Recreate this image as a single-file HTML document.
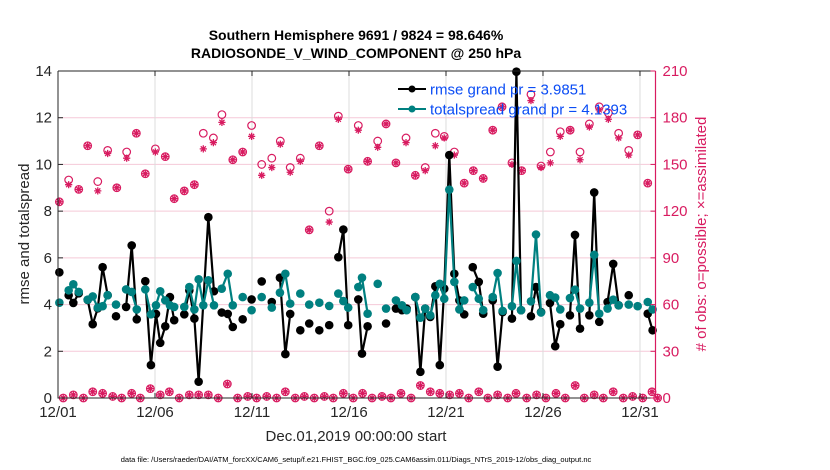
<!DOCTYPE html>
<html><head><meta charset="utf-8"><style>
html,body{margin:0;padding:0;background:#fff;}
svg{display:block;font-family:"Liberation Sans",sans-serif;}
</style></head><body>
<svg id="chart" width="830" height="470" viewBox="0 0 830 470" xmlns="http://www.w3.org/2000/svg">
<rect width="830" height="470" fill="#fff"/>
<g id="grid"></g>
<g id="obs"></g>
<g id="series"></g>
<g id="axes"></g>
<text x="356" y="40" font-size="14" font-weight="bold" text-anchor="middle" fill="#000">Southern Hemisphere 9691 / 9824 = 98.646%</text>
<text x="356" y="58" font-size="14" font-weight="bold" text-anchor="middle" fill="#000">RADIOSONDE_V_WIND_COMPONENT @ 250 hPa</text>
<text transform="translate(29,234) rotate(-90)" font-size="15" text-anchor="middle" fill="#262626">rmse and totalspread</text>
<text transform="translate(706,234) rotate(-90)" font-size="15" text-anchor="middle" fill="#d81b60"># of obs: o=possible; ×=assimilated</text>
<text x="356" y="441" font-size="15" text-anchor="middle" fill="#262626">Dec.01,2019 00:00:00 start</text>
<text x="356" y="462" font-size="7.5" text-anchor="middle" fill="#000">data file: /Users/raeder/DAI/ATM_forcXX/CAM6_setup/f.e21.FHIST_BGC.f09_025.CAM6assim.011/Diags_NTrS_2019-12/obs_diag_output.nc</text>
<g id="legend">
  <line x1="398" y1="89" x2="426" y2="89" stroke="#000" stroke-width="2"/>
  <circle cx="412" cy="89" r="3.5" fill="#000"/>
  <text x="430" y="94.5" font-size="15" fill="#0a4cf5">rmse grand pr = 3.9851</text>
  <line x1="398" y1="109" x2="426" y2="109" stroke="#008080" stroke-width="2"/>
  <circle cx="412" cy="109" r="3.5" fill="#008080"/>
  <text x="430" y="114.5" font-size="15" fill="#0a4cf5">totalspread grand pr = 4.1393</text>
</g>
</svg>
<script>
const xTickLabels = ["12/01","12/06","12/11","12/16","12/21","12/26","12/31"];
const xTickDays = [0,5,10,15,20,25,30];
const yTicks = [0,2,4,6,8,10,12,14];
const y2Ticks = [0,30,60,90,120,150,180,210];

const rmseDays = [0.07,null,0.55,0.79,1.07,null,1.53,1.79,2.05,2.30,2.56,null,2.99,null,3.51,3.80,4.06,null,4.50,4.79,5.05,5.27,5.53,5.77,5.99,null,6.51,6.77,7.03,7.25,7.75,8.04,null,8.44,8.75,9.01,null,9.52,null,9.98,null,10.5,null,11.02,null,11.44,11.72,11.97,null,12.49,null,12.95,null,13.47,null,13.98,null,14.45,14.71,14.96,null,15.48,15.67,15.96,null,16.91,null,17.42,17.73,17.97,null,18.42,18.68,18.93,19.19,19.45,19.68,19.91,20.17,20.43,20.69,20.94,null,21.38,21.69,21.92,null,22.41,22.66,22.92,null,23.40,23.63,23.87,null,24.38,24.64,24.90,null,25.36,25.63,25.89,null,26.39,26.65,26.91,null,27.39,27.64,27.90,null,28.33,28.62,28.90,null,29.42,null,30.40,30.65];
const rmseVals = [5.38,null,4.4,4.07,4.48,null,4.2,3.16,3.84,5.6,4.4,null,3.5,null,3.9,6.53,3.37,null,5.0,1.41,3.6,2.36,3.07,4.32,3.33,null,3.58,4.6,3.4,0.7,7.74,4.57,null,3.66,3.6,3.04,null,3.37,null,4.22,null,4.99,null,4.11,null,5.15,1.88,3.6,null,2.9,null,3.19,null,2.9,null,3.12,null,6.03,7.21,3.12,null,4.22,1.9,3.07,null,3.19,null,3.83,3.76,3.83,null,4.32,1.12,3.83,3.47,4.78,1.41,4.68,10.4,5.32,4.18,3.58,null,5.6,4.97,3.61,null,4.18,1.34,3.68,null,3.4,13.97,3.76,null,3.5,4.75,3.68,null,4.07,2.22,3.16,null,3.54,6.98,2.97,null,3.54,8.8,3.26,null,4.11,5.74,3.97,null,4.4,null,3.61,2.9];

const spreadDays = [0.07,null,0.55,0.79,1.07,null,1.53,1.79,2.05,2.30,2.56,null,2.99,null,3.51,3.80,4.06,null,4.50,4.79,5.05,5.27,5.53,5.77,5.99,null,6.51,6.77,7.03,7.25,7.49,7.75,8.04,null,8.44,8.75,9.01,null,9.52,null,9.98,null,10.5,null,11.02,null,11.44,11.72,11.97,null,12.49,null,12.95,null,13.47,null,13.98,null,14.45,14.71,14.96,null,15.48,15.67,15.96,null,16.48,null,16.91,null,17.42,17.73,17.97,null,18.42,18.68,18.93,19.19,19.45,19.68,19.91,20.17,20.43,20.69,20.94,null,21.38,21.69,21.92,null,22.41,22.66,22.92,null,23.40,23.63,23.87,null,24.38,24.64,24.90,null,25.36,25.63,25.89,null,26.39,26.65,26.91,null,27.39,27.64,27.90,null,28.33,28.62,28.90,null,29.42,null,29.88,null,30.40,30.65];
const spreadVals = [4.08,null,4.61,4.87,4.54,null,4.21,4.35,3.87,3.93,4.4,null,4.0,null,4.65,4.54,3.79,null,4.65,3.58,3.97,4.57,4.18,3.97,3.9,null,3.9,4.75,3.79,5.08,3.97,5.04,3.97,null,4.68,5.32,3.97,null,4.32,null,3.76,null,4.32,null,3.87,null,4.51,5.32,4.04,null,4.47,null,4.0,null,4.08,null,3.94,null,4.47,4.15,3.87,null,4.75,5.15,3.61,null,4.89,null,3.83,null,4.18,3.97,3.76,null,4.32,3.44,3.83,3.54,4.4,4.89,4.25,8.92,4.97,3.79,4.18,null,4.75,4.25,3.76,null,4.32,5.35,3.73,null,3.93,5.87,3.76,null,4.14,7.0,3.66,null,4.4,4.3,3.79,null,4.28,4.64,3.83,null,4.08,6.13,3.61,null,3.83,4.21,3.97,null,4.0,null,3.93,null,4.11,3.79];

const obsDays = [0.07,0.55,1.07,1.53,2.05,2.56,3.03,3.54,4.04,4.50,5.02,5.53,5.99,6.51,7.03,7.49,8.01,8.45,9.01,9.52,9.98,10.5,11.02,11.46,11.97,12.49,12.95,13.47,13.98,14.45,14.96,15.48,15.96,16.48,16.91,17.42,17.94,18.42,18.93,19.45,19.91,20.43,20.94,21.41,21.92,22.41,22.89,23.40,23.90,24.38,24.90,25.38,25.89,26.40,26.91,27.39,27.90,28.37,28.90,29.42,29.88,30.40];
const obsPossible = [126,140,134,162,139,159,135,158,170,144,160,155,128,133,137,170,167,182,153,158,175,150,154,165,148,154,108,162,120,181,147,175,152,165,176,151,167,143,148,170,168,158,138,146,141,172,187,151,146,195,149,158,171,172,158,176,187,183,170,159,169,138];
const obsAssim = [126,137,134,162,133,157,135,154,170,144,158,155,128,133,137,160,164,177,153,158,168,143,148,163,145,152,108,162,113,179,147,172,152,161,176,151,164,143,146,162,167,156,138,146,141,172,187,150,146,191,148,151,168,172,153,174,185,179,167,156,169,138];

const lowDays = [0.27,0.79,1.31,1.79,2.30,2.82,3.28,3.80,4.24,4.76,5.27,5.74,6.25,6.77,7.25,7.75,8.26,8.73,9.26,9.78,10.24,10.76,11.27,11.72,12.23,12.70,13.21,13.73,14.19,14.71,15.22,15.70,16.19,16.70,17.16,17.68,18.20,18.68,19.19,19.68,20.19,20.69,21.17,21.69,22.16,22.66,23.18,23.61,24.16,24.67,25.15,25.67,26.15,26.66,27.13,27.64,28.11,28.62,29.14,29.62,30.14,30.62,30.91];
const lowCounts = [0,2,0,4,3,1,0,3,0,6,2,4,0,2,2,2,0,9,0,1,0,1,0,4,0,1,0,1,0,3,0,3,0,1,0,3,0,8,4,3,2,3,0,4,0,2,0,3,0,2,0,3,0,8,0,2,0,4,0,1,0,4,0];

const NS="http://www.w3.org/2000/svg";
const L=58,R=655.5,T=71,B=398;
const xDayMax=30.8;
function xs(d){return L+(d/xDayMax)*(R-L);}
function ys(v){return B-(v/14)*(B-T);}
function y2(c){return B-(c/210)*(B-T);}
function mk(tag,attrs,parent){const e=document.createElementNS(NS,tag);for(const k in attrs)e.setAttribute(k,attrs[k]);parent.appendChild(e);return e;}

const grid=document.getElementById('grid'),axes=document.getElementById('axes'),obs=document.getElementById('obs'),ser=document.getElementById('series');
y2Ticks.forEach(t=>{if(t>0&&t<210){const l=mk('line',{x1:L,x2:R,y1:y2(t),y2:y2(t),stroke:'#f5c9d8','stroke-width':1},grid);

}});
xTickDays.forEach(d=>{const l=mk('line',{x1:xs(d),x2:xs(d),y1:T,y2:B,stroke:'#dcdcdc','stroke-width':1},grid);

});

function asterisk(cx,cy,g){const r=3.6;let d='';for(let i=0;i<4;i++){const a=i*Math.PI/4;d+=`M${cx-r*Math.cos(a)},${cy-r*Math.sin(a)}L${cx+r*Math.cos(a)},${cy+r*Math.sin(a)}`;}
return mk('path',{d:d,stroke:'#d81b60','stroke-width':1.3,fill:'none'},g);}
obsDays.forEach((d,i)=>{
 const c=mk('circle',{cx:xs(d),cy:y2(obsPossible[i]),r:3.8,fill:'none',stroke:'#d81b60','stroke-width':1.2},obs);
 
 
 const a=asterisk(xs(d),y2(obsAssim[i]),obs);
 
 
});
lowDays.forEach((d,i)=>{
 const c=mk('circle',{cx:xs(d),cy:y2(lowCounts[i]),r:3.8,fill:'none',stroke:'#d81b60','stroke-width':1.2},obs);
 
 
 const a=asterisk(xs(d),y2(lowCounts[i]),obs);
 
 
});

function drawSeries(days,vals,color,name){
 let d='',pen=false;
 days.forEach((x,i)=>{if(x===null||vals[i]===null){pen=false;return;}d+=(pen?'L':'M')+xs(x)+','+ys(vals[i]);pen=true;});
 const p=mk('path',{d:d,stroke:color,'stroke-width':2.2,fill:'none','stroke-linejoin':'round'},ser);
 
 
 days.forEach((x,i)=>{if(x===null||vals[i]===null)return;
  const c=mk('circle',{cx:xs(x),cy:ys(vals[i]),r:4.3,fill:color},ser);
  
  });
}
drawSeries(rmseDays,rmseVals,'#000','rmse');
drawSeries(spreadDays,spreadVals,'#008080','totalspread');

let f=mk('path',{d:`M${L},${T}L${R},${T}M${L},${T}L${L},${B}L${R},${B}`,stroke:'#262626','stroke-width':1,fill:'none'},axes);


f=mk('line',{x1:R,x2:R,y1:T,y2:B,stroke:'#d81b60','stroke-width':1.2},axes);


yTicks.forEach(t=>{
 mk('line',{x1:L,x2:L+5,y1:ys(t),y2:ys(t),stroke:'#262626'},axes);
 const tx=mk('text',{x:L-6,y:ys(t)+5,'font-size':15,'text-anchor':'end',fill:'#262626'},axes);
 tx.textContent=t;
 
 
});
y2Ticks.forEach(t=>{
 mk('line',{x1:R-5,x2:R,y1:y2(t),y2:y2(t),stroke:'#d81b60'},axes);
 const tx=mk('text',{x:R+7,y:y2(t)+5,'font-size':15,fill:'#d81b60'},axes);
 tx.textContent=t;
 
 
});
xTickDays.forEach((d,i)=>{
 mk('line',{x1:xs(d),x2:xs(d),y1:B,y2:B-5,stroke:'#262626'},axes);
 mk('line',{x1:xs(d),x2:xs(d),y1:T,y2:T+5,stroke:'#262626'},axes);
 const tx=mk('text',{x:xs(d),y:B+19,'font-size':15,'text-anchor':'middle',fill:'#262626'},axes);
 tx.textContent=xTickLabels[i];
 
 
});
</script>
</body></html>
